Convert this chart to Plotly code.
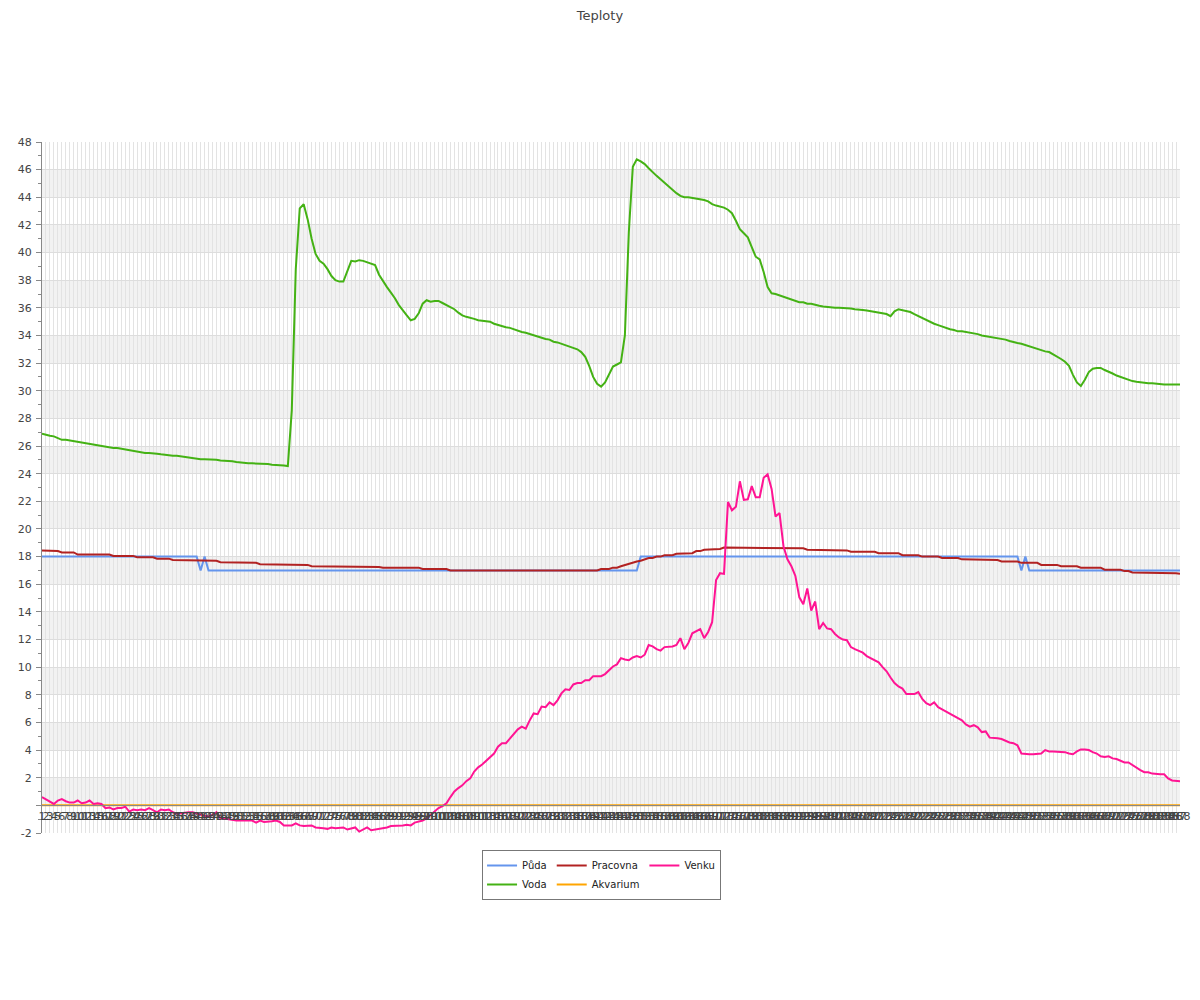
import plotly.graph_objects as go

categories = [str(i) for i in range(1, 289)]

puda = [
    18, 18, 18, 18, 18, 18, 18, 18, 18, 18, 18, 18,
    18, 18, 18, 18, 18, 18, 18, 18, 18, 18, 18, 18,
    18, 18, 18, 18, 18, 18, 18, 18, 18, 18, 18, 18,
    18, 18, 18, 18, 17, 18, 17, 17, 17, 17, 17, 17,
    17, 17, 17, 17, 17, 17, 17, 17, 17, 17, 17, 17,
    17, 17, 17, 17, 17, 17, 17, 17, 17, 17, 17, 17,
    17, 17, 17, 17, 17, 17, 17, 17, 17, 17, 17, 17,
    17, 17, 17, 17, 17, 17, 17, 17, 17, 17, 17, 17,
    17, 17, 17, 17, 17, 17, 17, 17, 17, 17, 17, 17,
    17, 17, 17, 17, 17, 17, 17, 17, 17, 17, 17, 17,
    17, 17, 17, 17, 17, 17, 17, 17, 17, 17, 17, 17,
    17, 17, 17, 17, 17, 17, 17, 17, 17, 17, 17, 17,
    17, 17, 17, 17, 17, 17, 17, 18, 18, 18, 18, 18,
    18, 18, 18, 18, 18, 18, 18, 18, 18, 18, 18, 18,
    18, 18, 18, 18, 18, 18, 18, 18, 18, 18, 18, 18,
    18, 18, 18, 18, 18, 18, 18, 18, 18, 18, 18, 18,
    18, 18, 18, 18, 18, 18, 18, 18, 18, 18, 18, 18,
    18, 18, 18, 18, 18, 18, 18, 18, 18, 18, 18, 18,
    18, 18, 18, 18, 18, 18, 18, 18, 18, 18, 18, 18,
    18, 18, 18, 18, 18, 18, 18, 18, 18, 18, 18, 18,
    18, 18, 18, 18, 18, 18, 18, 17, 18, 17, 17, 17,
    17, 17, 17, 17, 17, 17, 17, 17, 17, 17, 17, 17,
    17, 17, 17, 17, 17, 17, 17, 17, 17, 17, 17, 17,
    17, 17, 17, 17, 17, 17, 17, 17, 17, 17, 17, 17,
]

voda = [
    26.9, 26.8, 26.75, 26.7, 26.6, 26.45, 26.45, 26.4, 26.35, 26.3, 26.2, 26.15,
    26.1, 26.05, 26.05, 26.0, 25.95, 25.9, 25.85, 25.85, 25.8, 25.7, 25.65, 25.6,
    25.6, 25.55, 25.5, 25.5, 25.5, 25.45, 25.4, 25.35, 25.35, 25.3, 25.3, 25.25,
    25.2, 25.2, 25.15, 25.1, 25.05, 25.05, 25.05, 25.0, 25.0, 24.95, 24.95, 24.9,
    24.9, 24.85, 24.8, 24.8, 24.75, 24.75, 24.75, 24.7, 24.7, 24.7, 24.65, 24.65,
    24.6, 24.6, 24.55, 28.6, 38.8, 43.2, 43.5, 42.4, 41.0, 39.9, 39.4, 39.2,
    38.8, 38.3, 38.0, 37.9, 37.9, 38.7, 39.4, 39.35, 39.45, 39.4, 39.3, 39.25,
    39.1, 38.4, 37.9, 37.5, 37.1, 36.7, 36.2, 35.8, 35.45, 35.1, 35.2, 35.6,
    36.3, 36.55, 36.45, 36.5, 36.5, 36.35, 36.2, 36.05, 35.9, 35.65, 35.45, 35.35,
    35.3, 35.2, 35.1, 35.05, 35.05, 35.0, 34.85, 34.75, 34.7, 34.6, 34.55, 34.45,
    34.3, 34.25, 34.2, 34.1, 34.0, 33.9, 33.85, 33.75, 33.7, 33.55, 33.5, 33.4,
    33.3, 33.2, 33.1, 33.0, 32.8, 32.45, 31.8, 31.0, 30.5, 30.3, 30.6, 31.2,
    31.75, 31.9, 32.05, 34.0, 41.5, 46.2, 46.75, 46.6, 46.4, 46.1, 45.8, 45.55,
    45.3, 45.05, 44.75, 44.5, 44.3, 44.1, 44.0, 44.0, 43.95, 43.95, 43.85, 43.8,
    43.7, 43.5, 43.4, 43.35, 43.25, 43.1, 42.85, 42.3, 41.7, 41.4, 41.1, 40.4,
    39.7, 39.5, 38.6, 37.5, 37.05, 37.0, 36.9, 36.75, 36.65, 36.55, 36.45, 36.4,
    36.4, 36.3, 36.3, 36.2, 36.15, 36.1, 36.05, 36.05, 36.0, 36.0, 36.0, 36.0,
    35.95, 35.9, 35.9, 35.85, 35.8, 35.75, 35.7, 35.6, 35.55, 35.55, 35.4, 35.75,
    35.9, 35.85, 35.8, 35.7, 35.55, 35.4, 35.25, 35.15, 35.0, 34.85, 34.75, 34.65,
    34.5, 34.45, 34.4, 34.3, 34.3, 34.25, 34.2, 34.2, 34.1, 34.0, 33.95, 33.9,
    33.85, 33.8, 33.8, 33.7, 33.6, 33.5, 33.45, 33.4, 33.3, 33.25, 33.15, 33.0,
    32.95, 32.85, 32.8, 32.65, 32.45, 32.3, 32.1, 31.8, 31.15, 30.6, 30.35, 30.8,
    31.35, 31.6, 31.65, 31.65, 31.5, 31.4, 31.25, 31.1, 31.0, 30.85, 30.8, 30.7,
    30.65, 30.6, 30.6, 30.55, 30.55, 30.5, 30.5, 30.45, 30.45, 30.45, 30.45, 30.45,
]

pracovna = [
    18.45, 18.45, 18.4, 18.4, 18.4, 18.3, 18.3, 18.3, 18.3, 18.15, 18.15, 18.15,
    18.15, 18.15, 18.15, 18.15, 18.15, 18.15, 18.05, 18.05, 18.05, 18.05, 18.05, 18.05,
    17.95, 17.95, 17.95, 17.95, 17.95, 17.85, 17.85, 17.85, 17.85, 17.75, 17.75, 17.75,
    17.75, 17.75, 17.75, 17.7, 17.7, 17.7, 17.7, 17.7, 17.7, 17.6, 17.6, 17.6,
    17.6, 17.6, 17.55, 17.55, 17.55, 17.55, 17.55, 17.45, 17.45, 17.45, 17.45, 17.45,
    17.45, 17.45, 17.4, 17.4, 17.4, 17.4, 17.4, 17.4, 17.3, 17.3, 17.3, 17.3,
    17.3, 17.3, 17.3, 17.3, 17.25, 17.25, 17.25, 17.25, 17.25, 17.25, 17.25, 17.25,
    17.25, 17.25, 17.2, 17.2, 17.2, 17.2, 17.2, 17.2, 17.2, 17.2, 17.2, 17.2,
    17.1, 17.1, 17.1, 17.1, 17.1, 17.1, 17.1, 17.0, 17.0, 17.0, 17.0, 17.0,
    17.0, 17.0, 17.0, 17.0, 17.0, 17.0, 17.0, 17.0, 17.0, 17.0, 17.0, 17.0,
    17.0, 17.0, 17.0, 17.0, 17.0, 17.0, 17.0, 17.0, 17.0, 17.0, 17.0, 17.0,
    17.0, 17.0, 17.0, 17.0, 17.0, 17.0, 17.0, 17.0, 17.0, 17.1, 17.1, 17.1,
    17.2, 17.2, 17.3, 17.4, 17.5, 17.6, 17.65, 17.7, 17.8, 17.9, 17.9, 18.0,
    18.0, 18.1, 18.1, 18.1, 18.2, 18.2, 18.2, 18.25, 18.25, 18.4, 18.4, 18.5,
    18.5, 18.5, 18.55, 18.55, 18.65, 18.65, 18.65, 18.65, 18.65, 18.65, 18.65, 18.65,
    18.65, 18.65, 18.65, 18.65, 18.65, 18.65, 18.65, 18.65, 18.65, 18.6, 18.6, 18.6,
    18.6, 18.5, 18.5, 18.5, 18.5, 18.5, 18.45, 18.45, 18.45, 18.45, 18.45, 18.45,
    18.35, 18.35, 18.35, 18.35, 18.35, 18.35, 18.35, 18.25, 18.25, 18.25, 18.25, 18.25,
    18.25, 18.1, 18.1, 18.1, 18.1, 18.1, 18.0, 18.0, 18.0, 18.0, 18.0, 17.9,
    17.9, 17.9, 17.9, 17.9, 17.8, 17.8, 17.8, 17.8, 17.8, 17.75, 17.75, 17.75,
    17.75, 17.75, 17.65, 17.65, 17.65, 17.65, 17.65, 17.55, 17.55, 17.55, 17.55, 17.55,
    17.4, 17.4, 17.4, 17.4, 17.4, 17.3, 17.3, 17.3, 17.3, 17.3, 17.2, 17.2,
    17.2, 17.2, 17.2, 17.2, 17.05, 17.05, 17.05, 17.05, 17.05, 16.95, 16.95, 16.85,
    16.85, 16.85, 16.85, 16.85, 16.85, 16.85, 16.8, 16.8, 16.8, 16.8, 16.8, 16.75,
]

akvarium = [0] * 288

venku = [
    0.6, 0.45, 0.3, 0.1, 0.35, 0.45, 0.3, 0.2, 0.2, 0.35, 0.15, 0.2,
    0.35, 0.1, 0.15, 0.1, -0.2, -0.15, -0.3, -0.2, -0.2, -0.1, -0.45, -0.3,
    -0.35, -0.3, -0.35, -0.2, -0.35, -0.5, -0.3, -0.35, -0.3, -0.5, -0.6, -0.55,
    -0.5, -0.5, -0.5, -0.6, -0.7, -0.75, -0.8, -0.7, -0.5, -0.95, -0.95, -1.0,
    -1.1, -1.1, -1.1, -1.1, -1.15, -1.1, -1.25, -1.1, -1.2, -1.2, -1.15, -1.1,
    -1.2, -1.45, -1.45, -1.45, -1.3, -1.45, -1.5, -1.5, -1.45, -1.6, -1.6, -1.65,
    -1.7, -1.6, -1.65, -1.65, -1.6, -1.75, -1.65, -1.6, -1.9, -1.75, -1.6, -1.8,
    -1.75, -1.75, -1.65, -1.6, -1.5, -1.5, -1.5, -1.45, -1.4, -1.45, -1.25, -1.2,
    -1.1, -0.95, -0.7, -0.45, -0.2, -0.05, 0.15, 0.6, 1.0, 1.25, 1.45, 1.75,
    1.95, 2.45, 2.75, 2.95, 3.2, 3.5, 3.75, 4.25, 4.5, 4.5, 4.85, 5.15,
    5.5, 5.7, 5.55, 6.15, 6.65, 6.6, 7.15, 7.1, 7.45, 7.25, 7.6, 8.1,
    8.4, 8.35, 8.75, 8.85, 8.85, 9.05, 9.05, 9.35, 9.35, 9.35, 9.5, 9.8,
    10.05, 10.2, 10.65, 10.55, 10.5, 10.7, 10.8, 10.7, 10.9, 11.6, 11.5, 11.3,
    11.2, 11.45, 11.45, 11.5, 11.6, 12.1, 11.3, 11.75, 12.45, 12.6, 12.75, 12.1,
    12.55, 13.25, 16.3, 16.8, 16.75, 21.95, 21.35, 21.6, 23.45, 22.1, 22.15, 23.1,
    22.3, 22.3, 23.7, 23.95, 22.9, 20.9, 21.15, 18.75, 17.8, 17.3, 16.6, 15.05,
    14.55, 15.7, 14.1, 14.75, 12.75, 13.2, 12.8, 12.75, 12.4, 12.15, 12.0, 11.95,
    11.45, 11.3, 11.2, 11.05, 10.8, 10.65, 10.55, 10.35, 10.0, 9.7, 9.25, 8.85,
    8.6, 8.45, 8.05, 8.05, 8.05, 8.2, 7.7, 7.4, 7.25, 7.45, 7.1, 6.95,
    6.8, 6.65, 6.45, 6.3, 6.15, 5.85, 5.7, 5.8, 5.65, 5.3, 5.35, 4.9,
    4.9, 4.85, 4.8, 4.65, 4.55, 4.5, 4.35, 3.75, 3.7, 3.7, 3.7, 3.7,
    3.75, 4.0, 3.9, 3.9, 3.9, 3.9, 3.85, 3.75, 3.7, 3.9, 4.05, 4.05,
    4.0, 3.85, 3.75, 3.55, 3.5, 3.55, 3.4, 3.35, 3.25, 3.1, 3.1, 2.9,
    2.7, 2.55, 2.4, 2.4, 2.3, 2.25, 2.25, 2.25, 1.95, 1.8, 1.75, 1.75,
]

y_ticks = list(range(-2, 49, 2))
y_tick_labels = [str(v) if v != 0 else "" for v in y_ticks]
y_minor = list(range(-1, 48, 2))

series = [
    ("Půda", puda, "#6495ED", "g1"),
    ("Voda", voda, "#44B214", "g1"),
    ("Pracovna", pracovna, "#B22222", "g2"),
    ("Akvarium", akvarium, "#FFA500", "g2"),
    ("Venku", venku, "#FF1493", "g3"),
]

fig = go.Figure()
for name, vals, color, grp in series:
    fig.add_trace(go.Scatter(
        x=categories, y=vals, name=name, mode="lines",
        line=dict(color=color, width=2), legendgroup=grp,
    ))

# alternating horizontal bands
shapes = []
for lo in range(0, 48, 4):
    shapes.append(dict(type="rect", xref="paper", yref="y", x0=0, x1=1,
                       y0=lo, y1=lo + 2, fillcolor="#F2F2F2",
                       line=dict(width=0), layer="below"))

fig.update_layout(
    width=1192, height=992,
    paper_bgcolor="white", plot_bgcolor="white",
    margin=dict(l=34, r=20, t=134, b=167, autoexpand=False),
    font=dict(family="DejaVu Sans", size=11, color="#444"),
    title=dict(text="Teploty", x=0.4966, xanchor="center", y=1.0, yref="container",
               yanchor="top", pad=dict(t=3), font=dict(size=13, color="#444")),
    shapes=shapes,
    showlegend=True,
    legend=dict(orientation="h", x=0.4917, xanchor="center", y=-0.0246, yanchor="top",
                bordercolor="#777", borderwidth=1, bgcolor="white",
                font=dict(size=10, color="#222"), tracegroupgap=0,
                itemwidth=30),
    xaxis=dict(
        type="category", range=[0, 287], tickmode="array",
        tickvals=categories, ticktext=categories, tickangle=0,
        tickfont=dict(size=11, color="#444"),
        anchor="free", position=2 / 50, automargin=False,
        showline=True, linecolor="#888", linewidth=1,
        showgrid=True, gridcolor="#E3E3E3", gridwidth=1,
        ticks="", zeroline=False,
    ),
    yaxis=dict(
        range=[-2, 48], tickmode="array", tickvals=y_ticks, ticktext=y_tick_labels,
        tickfont=dict(size=11, color="#444"), automargin=False,
        ticklabelstandoff=2,
        showgrid=True, gridcolor="#DDDDDD", gridwidth=1,
        ticks="outside", ticklen=5, tickcolor="#888",
        showline=True, linecolor="#888", linewidth=1, zeroline=False,
        minor=dict(tickvals=y_minor, ticks="outside", ticklen=3, tickcolor="#888",
                   showgrid=False),
    ),
)

fig.write_html("out.html")
